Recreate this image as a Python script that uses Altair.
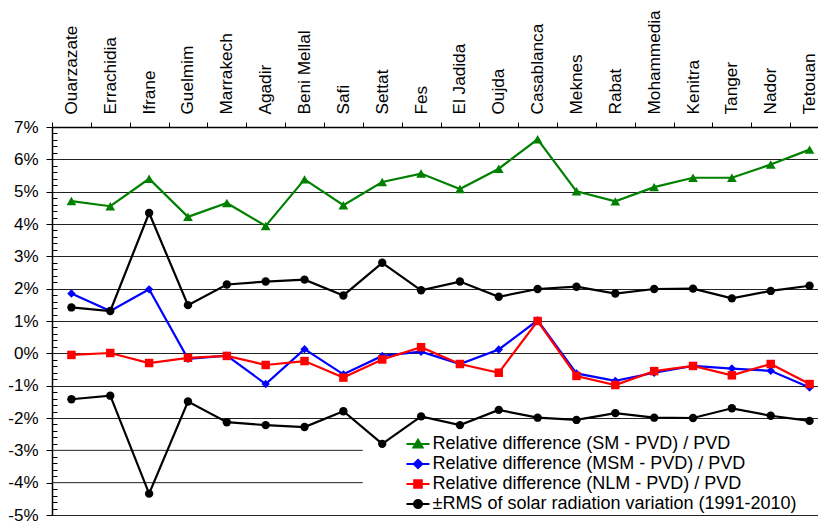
import json
import math
import altair as alt
import pandas as pd

cities = ["Ouarzazate", "Errachidia", "Ifrane", "Guelmim", "Marrakech", "Agadir",
          "Beni Mellal", "Safi", "Settat", "Fes", "El Jadida", "Oujda", "Casablanca",
          "Meknes", "Rabat", "Mohammedia", "Kenitra", "Tanger", "Nador", "Tetouan"]

sm = [4.71, 4.55, 5.40, 4.22, 4.65, 3.94, 5.38, 4.58, 5.30, 5.56,
      5.08, 5.71, 6.62, 5.01, 4.70, 5.14, 5.43, 5.43, 5.84, 6.30]
msm = [1.85, 1.31, 1.98, -0.17, -0.07, -0.95, 0.13, -0.65, -0.08, 0.05,
       -0.33, 0.12, 1.02, -0.62, -0.85, -0.60, -0.39, -0.47, -0.54, -1.06]
nlm = [-0.05, 0.01, -0.30, -0.14, -0.08, -0.36, -0.24, -0.75, -0.19, 0.19,
       -0.33, -0.60, 1.00, -0.70, -0.98, -0.55, -0.39, -0.68, -0.33, -0.95]
rms = [1.42, 1.31, 4.34, 1.49, 2.13, 2.22, 2.28, 1.79, 2.80, 1.95,
       2.22, 1.75, 1.99, 2.06, 1.85, 1.99, 2.00, 1.70, 1.93, 2.09]

legend_labels = ["Relative difference (SM - PVD) / PVD",
                 "Relative difference (MSM - PVD) / PVD",
                 "Relative difference (NLM - PVD) / PVD",
                 "\u00b1RMS of solar radiation variation (1991-2010)"]
colors = ["#008000", "#0000FF", "#FF0000", "#000000"]
marker_shapes = ["triangle-up", "diamond", "square", "circle"]
marker_sizes = [95, 70, 72, 70]

y_ticks = list(range(-5, 8))
short_grid = [-3, -4]
minor_ticks = [i / 5 for i in range(-25, 36) if i % 5 != 0]

# ---- long table -------------------------------------------------------
rows = []
series_defs = [("SM", sm, 0), ("MSM", msm, 1), ("NLM", nlm, 2),
               ("RMSp", rms, 3), ("RMSn", [-v for v in rms], 3)]
for grp, vals, k in series_defs:
    for i, v in enumerate(vals):
        rows.append({"idx": i, "val": v, "grp": grp, "series": legend_labels[k],
                     "col": colors[k], "shp": marker_shapes[k], "sz": marker_sizes[k]})
df = pd.DataFrame(rows)
grid_df = pd.DataFrame({"val": short_grid})

FONT = "Liberation Sans"
PLOT_W = 766
STEP = 38.85
X_MAX = -0.5 + PLOT_W / STEP

label_expr = "%s[round(datum.value + 0.5)]" % json.dumps(cities)
X = alt.X("idx:Q",
          scale=alt.Scale(domain=[-0.5, X_MAX], nice=False, zero=False),
          axis=alt.Axis(orient="top", values=[k - 0.5 for k in range(20)],
                        labelExpr=label_expr, labelAngle=270, labelAlign="left",
                        labelBaseline="middle", labelOffset=STEP / 2, labelPadding=8,
                        labelFlush=False, labelOverlap=False, labelBound=False,
                        tickSize=5, tickColor="black", tickWidth=1,
                        domainColor="black", domainWidth=1.5, grid=False, title=None,
                        labelFontSize=17.2, labelFont=FONT, labelColor="black"))

Y = alt.Y("val:Q",
          scale=alt.Scale(domain=[-5, 7], nice=False, zero=False),
          axis=alt.Axis(orient="left", values=y_ticks, labelExpr="datum.value + '%'",
                        labelFontSize=17, labelFont=FONT, labelColor="black",
                        labelPadding=8, tickSize=6, tickColor="black", tickWidth=1,
                        domainColor="black", domainWidth=1.5, grid=True,
                        gridColor="#222222", gridWidth=1,
                        gridOpacity={"condition": {"test": "datum.value === -3 || datum.value === -4",
                                                   "value": 0}, "value": 1},
                        title=None, labelFlush=False, labelOverlap=False))

base = alt.Chart(df)

# partial gridlines (the part not hidden behind the legend box)
short_rules = alt.Chart(grid_df).mark_rule(color="#222222", strokeWidth=1).encode(
    y=Y, x=alt.datum(-0.5), x2=alt.datum(7.5))

layers = [short_rules]
for grp, _, k in series_defs:
    sub = base.transform_filter(alt.datum.grp == grp)
    line = sub.mark_line(strokeWidth=2.2).encode(
        x=X, y=Y, color=alt.Color("col:N", scale=None))
    pts = sub.mark_point(filled=True, opacity=1).encode(
        x=X, y=Y,
        fill=alt.Fill("col:N", scale=None),
        shape=alt.Shape("shp:N", scale=None),
        size=alt.Size("sz:Q", scale=None))
    layers += [line, pts]

# legend symbols: a line with the marker on it
def poly(r, n=16):
    pts = ["%.3f,%.3f" % (r * math.cos(2 * math.pi * j / n), r * math.sin(2 * math.pi * j / n))
           for j in range(n)]
    return "M" + "L".join(pts) + "Z"

line_path = "M-1.15,0L1.15,0"
leg_paths = [line_path + "M0,-0.42L0.46,0.36L-0.46,0.36Z",
             line_path + "M0,-0.42L0.42,0L0,0.42L-0.42,0Z",
             line_path + "M-0.38,-0.38L0.38,-0.38L0.38,0.38L-0.38,0.38Z",
             line_path + poly(0.4)]

leg = alt.Legend(title=None, orient="none", legendX=355, legendY=306, padding=0,
                 rowPadding=0, symbolSize=400, symbolStrokeWidth=2, symbolOpacity=1,
                 labelFontSize=18, labelFont=FONT, labelColor="black", labelOffset=3.5,
                 labelLimit=600)

legend_layer = base.transform_filter(alt.datum.grp != "RMSn").mark_point(
    filled=True, opacity=0).encode(
    x=X, y=Y,
    fill=alt.Fill("series:N", scale=alt.Scale(domain=legend_labels, range=colors), legend=leg),
    stroke=alt.Stroke("series:N", scale=alt.Scale(domain=legend_labels, range=colors), legend=leg),
    shape=alt.Shape("series:N", scale=alt.Scale(domain=legend_labels, range=leg_paths), legend=leg))
layers.append(legend_layer)

main = alt.layer(*layers)

minor = alt.Chart(grid_df).mark_point(opacity=0).encode(
    x=X,
    y=alt.Y("val:Q", scale=alt.Scale(domain=[-5, 7], nice=False, zero=False),
            axis=alt.Axis(orient="left", values=minor_ticks, labels=False, domain=False,
                          grid=False, ticks=True, tickSize=5, offset=-5,
                          tickColor="black", tickWidth=1, title=None)))

chart = alt.layer(main, minor).resolve_scale(y="independent").properties(
    width=PLOT_W, height=388,
    autosize=alt.AutoSizeParams(type="none"),
    padding={"left": 44, "top": 119, "right": 0, "bottom": 12},
    background="white",
).configure_view(stroke=None)

chart.save("out.html", embed_options={"renderer": "svg", "actions": False})
